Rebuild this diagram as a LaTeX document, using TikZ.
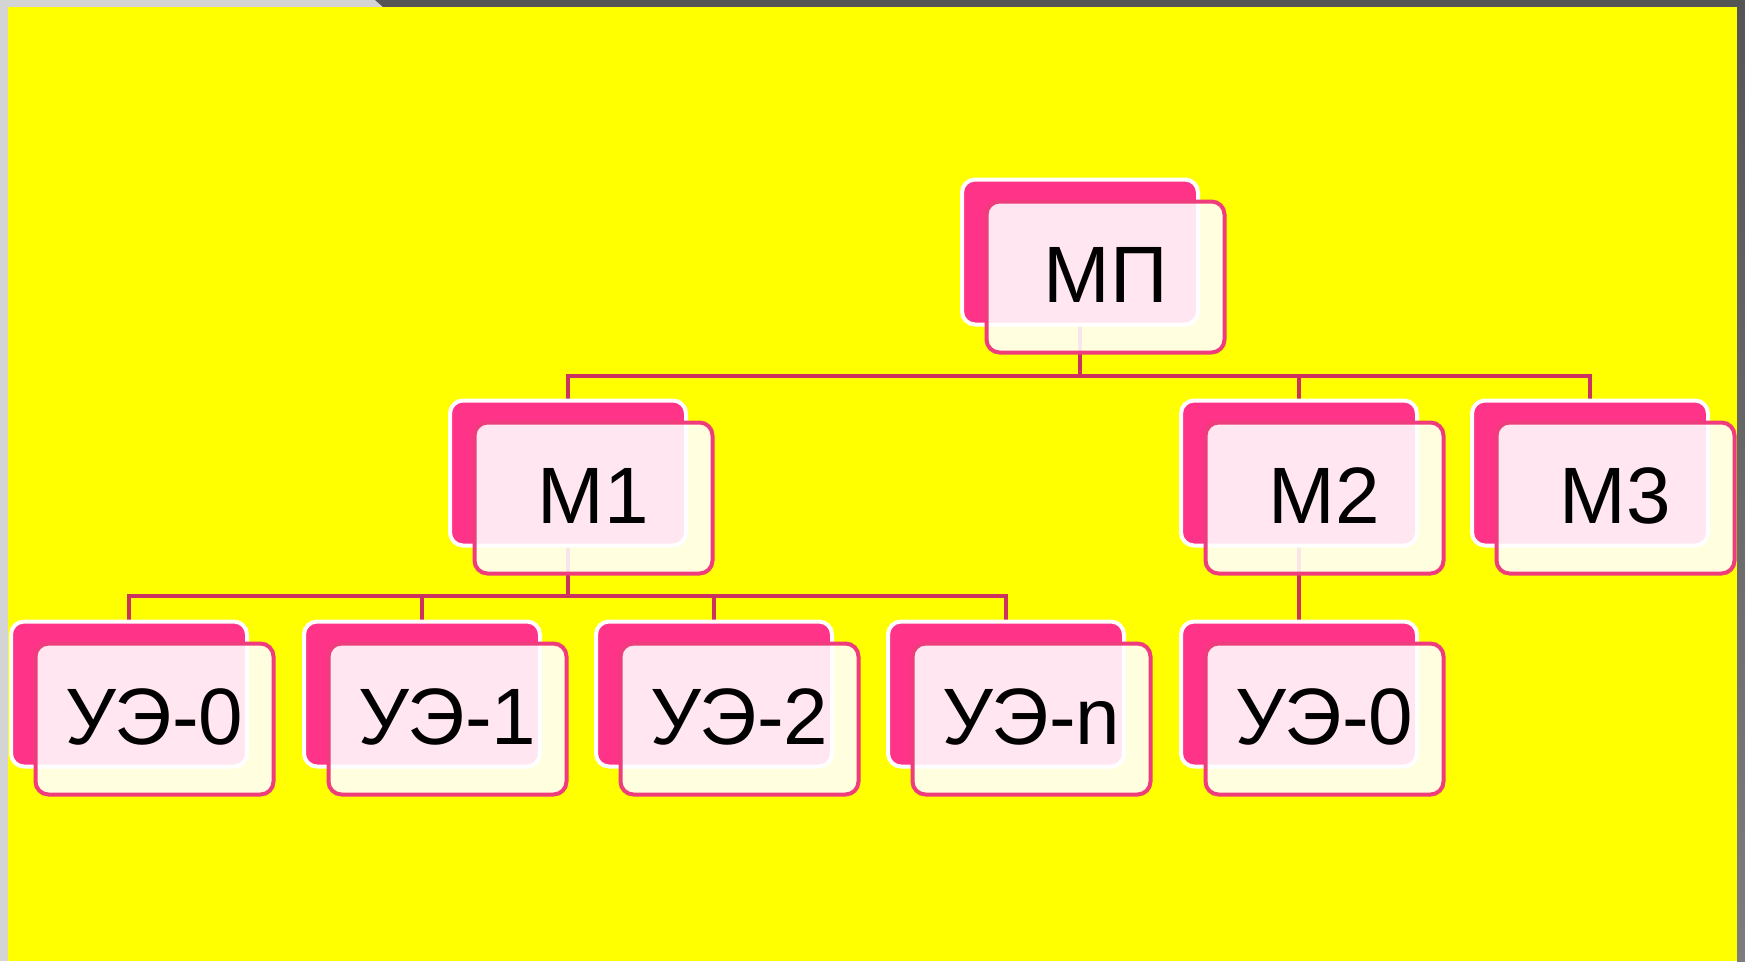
\documentclass[tikz,border=0pt]{standalone}
\usepackage{fontspec}
\setmainfont{Liberation Sans}
\usetikzlibrary{calc}
\definecolor{bgyellow}{RGB}{255,255,0}
\definecolor{frameL}{RGB}{212,212,212}
\definecolor{frameD}{RGB}{85,85,85}
\definecolor{frameD2}{RGB}{125,125,125}
\definecolor{hotpink}{RGB}{255,51,136}
\definecolor{pinkline}{RGB}{238,60,125}
\definecolor{connc}{RGB}{204,50,96}
\tikzset{
  backbox/.style={draw=white, line width=4pt, fill=hotpink, rounded corners=13pt,
    minimum width=236pt, minimum height=145pt, inner sep=0pt},
  frontbox/.style={draw=pinkline, line width=4pt, fill=white, fill opacity=0.88,
    text opacity=1, rounded corners=13pt, minimum width=238pt, minimum height=151pt,
    inner sep=0pt, text height=58pt, text depth=8pt,
    font=\fontsize{80}{96}\selectfont, text=black},
  conn/.style={draw=connc, line width=4.5pt, line join=miter}
}
\begin{document}
\begin{tikzpicture}[x=1pt,y=-1pt]
\useasboundingbox (0,0) rectangle (1745,961);
% frame
\fill[frameL] (0,0) rectangle (1745,961);
\fill[frameD] (375,0) -- (1745,0) -- (1745,961) -- (1737,961) -- (1737,7) -- (383,7) -- cycle;
\shade[top color=frameD, bottom color=frameD2] (1737,7) rectangle (1745,961);
\fill[bgyellow] (8,7) rectangle (1737,961);
% bar coordinates
\coordinate (bar1) at (0,376);
\coordinate (bar2) at (0,596);
% back-box centres
\coordinate (cmp) at (1080,252);
\coordinate (cm1) at (568,473);
\coordinate (cm2) at (1299,473);
\coordinate (cm3) at (1590,473);
\coordinate (cu0) at (129,694);
\coordinate (cu1) at (422,694);
\coordinate (cu2) at (714,694);
\coordinate (cun) at (1006,694);
\coordinate (cu4) at (1299,694);
% connectors
\draw[conn] (cmp) -- (cmp |- bar1);
\draw[conn] (cm1) |- (cm3 |- bar1) -- (cm3);
\draw[conn] (cm2) -- (cm2 |- bar1);
\draw[conn] (cm1) -- (cm1 |- bar2);
\draw[conn] (cu0) |- (cun |- bar2) -- (cun);
\draw[conn] (cu1) -- (cu1 |- bar2);
\draw[conn] (cu2) -- (cu2 |- bar2);
\draw[conn] (cm2) -- (cu4);
% boxes
\foreach \c/\t in {cmp/МП, cm1/М1, cm2/М2, cm3/М3, cu0/УЭ-0, cu1/УЭ-1, cu2/УЭ-2, cun/УЭ-n, cu4/УЭ-0}{
  \node[backbox] (\c-b) at (\c) {};
  \node[frontbox] (\c-f) at ($(\c)+(25.5,25)$) {\t};
}
\end{tikzpicture}
\end{document}
